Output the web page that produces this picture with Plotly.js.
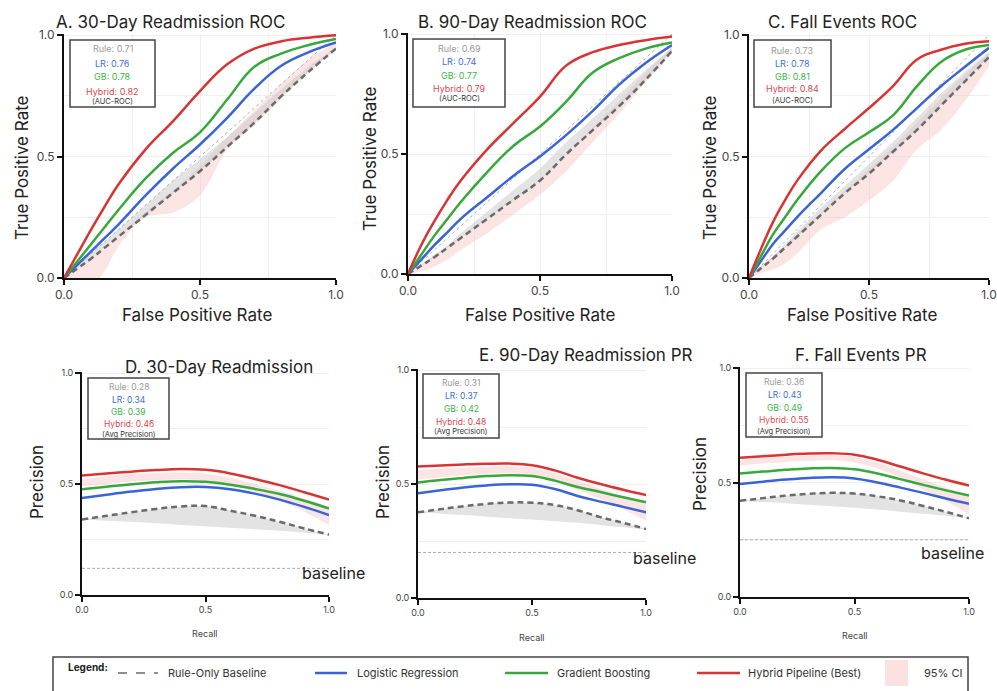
<!DOCTYPE html>
<html><head><meta charset="utf-8">
<script src="https://cdn.plot.ly/plotly-3.0.1.min.js"></script>
<style>html,body{margin:0;padding:0;background:#fff}</style>
</head><body><div id="chart" style="width:997px;height:691px"></div>
<script>
// ---------- DATA ----------
const rocFPR = [0,0.05,0.1,0.15,0.2,0.3,0.4,0.5,0.6,0.7,0.8,0.9,1];
const prRecall = [0,0.1,0.2,0.3,0.4,0.5,0.6,0.7,0.8,0.9,1];
const diagX = [0,1];
const diagY = [0,1];

// A. 30-Day Readmission ROC
const rocA_rule  = [0,0.04,0.08,0.125,0.17,0.26,0.35,0.44,0.54,0.64,0.75,0.85,0.945];
const rocA_ruleHi= [0,0.05,0.10,0.15,0.20,0.30,0.40,0.49,0.58,0.68,0.78,0.87,0.95];
const rocA_lr    = [0,0.055,0.11,0.165,0.22,0.34,0.45,0.55,0.66,0.78,0.875,0.93,0.97];
const rocA_gb    = [0,0.07,0.14,0.21,0.28,0.41,0.515,0.60,0.735,0.87,0.925,0.96,0.985];
const rocA_hyb   = [0,0.10,0.20,0.295,0.385,0.53,0.645,0.77,0.88,0.945,0.975,0.99,1.0];
const rocA_ciLo  = [0,-0.035,-0.03,0.03,0.13,0.25,0.27,0.34,0.53,0.63,0.74,0.85,0.94];
const rocA_ciHi  = [0,0.04,0.08,0.125,0.17,0.27,0.36,0.46,0.58,0.69,0.80,0.90,0.97];

// B. 90-Day Readmission ROC
const rocB_rule  = [0,0.035,0.07,0.11,0.15,0.23,0.31,0.39,0.50,0.60,0.70,0.81,0.93];
const rocB_ruleHi= [0,0.04,0.08,0.12,0.17,0.26,0.35,0.44,0.55,0.65,0.75,0.85,0.94];
const rocB_lr    = [0,0.06,0.12,0.175,0.23,0.32,0.41,0.49,0.58,0.68,0.79,0.88,0.955];
const rocB_gb    = [0,0.08,0.16,0.23,0.30,0.425,0.535,0.615,0.72,0.84,0.90,0.94,0.965];
const rocB_hyb   = [0,0.12,0.22,0.31,0.39,0.52,0.63,0.74,0.87,0.925,0.955,0.975,0.99];
const rocB_ciLo  = [0,0.01,0.03,0.06,0.10,0.17,0.25,0.33,0.43,0.55,0.67,0.80,0.92];
const rocB_ciHi  = [0,0.04,0.075,0.115,0.155,0.235,0.315,0.395,0.50,0.61,0.72,0.84,0.95];

// C. Fall Events ROC
const rocC_rule  = [0,0.04,0.08,0.125,0.17,0.26,0.35,0.43,0.52,0.61,0.71,0.81,0.91];
const rocC_ruleHi= [0,0.045,0.09,0.14,0.19,0.29,0.38,0.47,0.56,0.66,0.76,0.85,0.93];
const rocC_lr    = [0,0.07,0.14,0.195,0.25,0.35,0.45,0.53,0.61,0.70,0.79,0.87,0.948];
const rocC_gb    = [0,0.09,0.18,0.25,0.32,0.44,0.535,0.60,0.67,0.79,0.89,0.94,0.96];
const rocC_hyb   = [0,0.12,0.23,0.32,0.40,0.525,0.615,0.70,0.79,0.90,0.94,0.965,0.975];
const rocC_ciLo  = [0,0.02,0.035,0.06,0.10,0.20,0.25,0.32,0.40,0.53,0.61,0.73,0.87];
const rocC_ciHi  = [0,0.05,0.09,0.13,0.18,0.27,0.36,0.45,0.54,0.64,0.74,0.84,0.93];

// D. 30-Day Readmission PR
const prD_rule  = [0.34,0.357,0.373,0.388,0.399,0.401,0.38,0.357,0.33,0.30,0.272];
const prD_ruleLo= [0.34,0.335,0.33,0.323,0.316,0.31,0.303,0.296,0.289,0.281,0.272];
const prD_lr    = [0.437,0.452,0.466,0.478,0.486,0.487,0.477,0.457,0.43,0.397,0.36];
const prD_gb    = [0.476,0.488,0.499,0.508,0.513,0.51,0.497,0.478,0.455,0.425,0.39];
const prD_hyb   = [0.539,0.548,0.556,0.563,0.568,0.564,0.548,0.523,0.495,0.463,0.43];
const prD_ciLo  = [0.49,0.50,0.51,0.517,0.52,0.515,0.495,0.465,0.425,0.375,0.315];
const prD_ciHi  = [0.52,0.535,0.545,0.55,0.552,0.547,0.528,0.50,0.47,0.435,0.40];

// E. 90-Day Readmission PR
const prE_rule  = [0.376,0.39,0.403,0.413,0.419,0.418,0.408,0.385,0.355,0.33,0.303];
const prE_ruleLo= [0.376,0.37,0.364,0.357,0.35,0.344,0.337,0.33,0.32,0.31,0.30];
const prE_lr    = [0.46,0.473,0.485,0.494,0.499,0.497,0.478,0.448,0.423,0.40,0.376];
const prE_gb    = [0.507,0.518,0.527,0.535,0.539,0.535,0.515,0.487,0.465,0.442,0.42];
const prE_hyb   = [0.577,0.582,0.586,0.589,0.59,0.583,0.56,0.528,0.50,0.475,0.452];
const prE_ciLo  = [0.52,0.53,0.538,0.545,0.547,0.54,0.515,0.475,0.435,0.39,0.34];
const prE_ciHi  = [0.56,0.568,0.573,0.577,0.578,0.572,0.548,0.515,0.48,0.445,0.41];

// F. Fall Events PR
const prF_rule  = [0.42,0.432,0.443,0.451,0.455,0.452,0.44,0.422,0.398,0.372,0.344];
const prF_ruleLo= [0.42,0.415,0.41,0.403,0.397,0.39,0.382,0.373,0.364,0.355,0.345];
const prF_lr    = [0.494,0.504,0.513,0.52,0.523,0.518,0.50,0.478,0.455,0.43,0.407];
const prF_gb    = [0.54,0.548,0.556,0.562,0.564,0.558,0.54,0.515,0.49,0.466,0.443];
const prF_hyb   = [0.608,0.615,0.622,0.627,0.628,0.622,0.60,0.57,0.54,0.512,0.487];
const prF_ciLo  = [0.575,0.583,0.59,0.595,0.597,0.588,0.562,0.522,0.47,0.42,0.36];
const prF_ciHi  = [0.60,0.608,0.614,0.618,0.62,0.612,0.588,0.552,0.515,0.478,0.44];

const prBaseline = [0.12, 0.20, 0.25];

// Metric boxes
const aucRule = [0.71,0.69,0.73];
const aucLR   = [0.76,0.74,0.78];
const aucGB   = [0.78,0.77,0.81];
const aucHyb  = [0.82,0.79,0.84];
const apRule  = [0.28,0.31,0.36];
const apLR    = [0.34,0.37,0.43];
const apGB    = [0.39,0.42,0.49];
const apHyb   = [0.46,0.48,0.55];

const panelTitles = ['A. 30-Day Readmission ROC','B. 90-Day Readmission ROC','C. Fall Events ROC',
                     'D. 30-Day Readmission','E. 90-Day Readmission PR','F. Fall Events PR'];
const tickVals = [0,0.5,1];
const tickText = ['0.0','0.5','1.0'];
const legendLabels = ['Rule-Only Baseline','Logistic Regression','Gradient Boosting','Hybrid Pipeline (Best)','95% CI'];

// ---------- STYLE ----------
const C_RULE='#6a6a6a', C_LR='#3a63d6', C_GB='#37a83b', C_HYB='#d83434';
const C_PINK='rgba(246,196,196,0.45)', C_GRAY='rgba(200,200,200,0.5)';
const FONT='Inter, "Noto Sans", sans-serif';
const W=997, H=691;
const px=v=>v/W, py=v=>1-v/H;

const panels = [
  {x:[64,336], y:[278,34]},
  {x:[408,672], y:[274,33]},
  {x:[749,989], y:[278,34]},
  {x:[82,329], y:[595,372]},
  {x:[418,646], y:[598,369]},
  {x:[740,969], y:[597,367]},
];

const rocSets = [
  {rule:rocA_rule, hi:rocA_ruleHi, lr:rocA_lr, gb:rocA_gb, hyb:rocA_hyb, ciLo:rocA_ciLo, ciHi:rocA_ciHi},
  {rule:rocB_rule, hi:rocB_ruleHi, lr:rocB_lr, gb:rocB_gb, hyb:rocB_hyb, ciLo:rocB_ciLo, ciHi:rocB_ciHi},
  {rule:rocC_rule, hi:rocC_ruleHi, lr:rocC_lr, gb:rocC_gb, hyb:rocC_hyb, ciLo:rocC_ciLo, ciHi:rocC_ciHi},
];
const prSets = [
  {rule:prD_rule, lo:prD_ruleLo, lr:prD_lr, gb:prD_gb, hyb:prD_hyb, ciLo:prD_ciLo, ciHi:prD_ciHi},
  {rule:prE_rule, lo:prE_ruleLo, lr:prE_lr, gb:prE_gb, hyb:prE_hyb, ciLo:prE_ciLo, ciHi:prE_ciHi},
  {rule:prF_rule, lo:prF_ruleLo, lr:prF_lr, gb:prF_gb, hyb:prF_hyb, ciLo:prF_ciLo, ciHi:prF_ciHi},
];

const traces=[];
function ax(i){return {xaxis: i===0?'x':'x'+(i+1), yaxis: i===0?'y':'y'+(i+1)};}
function band(i,x,lo,hi,color){
  const a=ax(i);
  traces.push(Object.assign({x:x,y:lo,mode:'lines',line:{width:0,shape:'spline'},hoverinfo:'skip',showlegend:false},a));
  traces.push(Object.assign({x:x,y:hi,mode:'lines',fill:'tonexty',fillcolor:color,line:{width:0,shape:'spline'},hoverinfo:'skip',showlegend:false},a));
}
function line(i,x,y,color,width,dash){
  traces.push(Object.assign({x:x,y:y,mode:'lines',line:{color:color,width:width,dash:dash||'solid',shape:'spline',smoothing:1.2},hoverinfo:'skip',showlegend:false},ax(i)));
}

rocSets.forEach((s,i)=>{
  band(i,rocFPR,s.ciLo,s.ciHi,C_PINK);
  band(i,rocFPR,s.rule,s.hi,C_GRAY);
  line(i,diagX,diagY,'#b0b0b0',1,'dot');
  line(i,rocFPR,s.rule,C_RULE,2.5,'6px,4px');
  line(i,rocFPR,s.lr,C_LR,2.5);
  line(i,rocFPR,s.gb,C_GB,2.5);
  line(i,rocFPR,s.hyb,C_HYB,2.5);
});
prSets.forEach((s,k)=>{
  const i=k+3;
  band(i,prRecall,s.ciLo,s.ciHi,C_PINK);
  band(i,prRecall,s.lo,s.rule,C_GRAY);
  line(i,[prRecall[0],prRecall[prRecall.length-1]],[prBaseline[k],prBaseline[k]],'#aaaaaa',1,'3px,2px');
  line(i,prRecall,s.rule,C_RULE,2.5,'6px,4px');
  line(i,prRecall,s.lr,C_LR,2.5);
  line(i,prRecall,s.gb,C_GB,2.5);
  line(i,prRecall,s.hyb,C_HYB,2.5);
});

const layout={width:W,height:H,autosize:false,margin:{l:0,r:0,t:0,b:0},
  paper_bgcolor:'#fff',plot_bgcolor:'#fff',showlegend:false,font:{family:FONT,color:'#222'},
  annotations:[],shapes:[]};

panels.forEach((p,i)=>{
  const roc=i<3;
  const fs=roc?12:9;
  const common={tickvals:tickVals,ticktext:tickText,showline:true,linecolor:'#111',linewidth:2,
    ticks:'outside',ticklen:5,tickwidth:2,tickcolor:'#111',
    tickfont:{family:FONT,size:fs,color:'#444'},zeroline:false,fixedrange:true,
    gridcolor:'#efefef',gridwidth:1};
  const xk=i===0?'xaxis':'xaxis'+(i+1), yk=i===0?'yaxis':'yaxis'+(i+1);
  const xa=i===0?'x':'x'+(i+1), ya=i===0?'y':'y'+(i+1);
  layout[xk]=Object.assign({},common,{domain:[px(p.x[0]),px(p.x[1])],anchor:ya,range:[0,1],
    showgrid:roc, minor:roc?{dtick:0.25,tick0:0,showgrid:true,gridcolor:'#efefef',ticks:''}:undefined});
  layout[yk]=Object.assign({},common,{domain:[py(p.y[0]),py(p.y[1])],anchor:xa,range:[0,1.005],
    showgrid:true, minor:{dtick:0.25,tick0:0,showgrid:true,gridcolor:'#efefef',ticks:''}});
});

function ann(text,x,y,o){
  layout.annotations.push(Object.assign({text:text,x:px(x),y:py(y),xref:'paper',yref:'paper',
    showarrow:false,xanchor:'center',yanchor:'middle',font:{family:FONT,size:12,color:'#222'}},o||{}));
}
// titles
const titlePos=[[171,22],[532,22],[842,22],[219,367],[586,355],[861,355]];
panelTitles.forEach((t,i)=>ann(t,titlePos[i][0],titlePos[i][1],{font:{family:FONT,size:17,color:'#222'}}));
// axis titles
[[22,168],[370,159],[710,168]].forEach(p=>ann('True Positive Rate',p[0],p[1],{textangle:-90,font:{family:FONT,size:17,color:'#222'}}));
[[197,315],[540,315],[862,315]].forEach(p=>ann('False Positive Rate',p[0],p[1],{font:{family:FONT,size:17,color:'#222'}}));
[[37,482],[383,482],[700,474]].forEach(p=>ann('Precision',p[0],p[1],{textangle:-90,font:{family:FONT,size:17,color:'#222'}}));
[[205,633],[532,637],[855,635]].forEach(p=>ann('Recall',p[0],p[1],{font:{family:FONT,size:9,color:'#444'}}));
// baseline labels
[[300,573],[631,558],[919,553]].forEach(p=>ann('baseline',p[0],p[1],{xanchor:'left',font:{family:FONT,size:16,color:'#222'}}));

// metric boxes
const boxes=[[70,155,40,107],[413,505,39,107],[754,831,40,107],[88,169,378,439],[423,499,374,438],[746,822,373,437]];
const boxLines=[[49,63,77,91,102],[49,62,75,89,99],[50,63,76,89,100],[387,400,412,424,434],[383,396,409,422,432],[382,395,408,420,431]];
boxes.forEach((b,i)=>{
  layout.shapes.push({type:'rect',xref:'paper',yref:'paper',x0:px(b[0]),x1:px(b[1]),y0:py(b[3]),y1:py(b[2]),
    line:{color:'#444',width:1.5},fillcolor:'rgba(255,255,255,0.9)',layer:'above'});
  const roc=i<3, k=i%3;
  const vals=roc?[aucRule[k],aucLR[k],aucGB[k],aucHyb[k]]:[apRule[k],apLR[k],apGB[k],apHyb[k]];
  const labels=['Rule: ','LR: ','GB: ','Hybrid: '];
  const cols=['#9a9a9a','#3c6fd6','#3db54a','#e0474c'];
  const cx=(b[0]+b[1])/2, fs=roc?9:8.5;
  vals.forEach((v,j)=>ann(labels[j]+v.toFixed(2),cx,boxLines[i][j],{font:{family:FONT,size:fs,color:cols[j]}}));
  ann(roc?'(AUC-ROC)':'(Avg Precision)',cx,boxLines[i][4],{font:{family:FONT,size:7.5,color:'#333'}});
});

// custom legend
layout.shapes.push({type:'rect',xref:'paper',yref:'paper',x0:px(53),x1:px(968),y0:py(705),y1:py(657),line:{color:'#444',width:1.5},fillcolor:'rgba(0,0,0,0)'});
ann('<b>Legend:</b>',66,667,{xanchor:'left',font:{family:FONT,size:10,color:'#222'}});
const legLines=[[118,158,C_RULE,'dash',1.5],[315,347,C_LR,'solid',2.5],[505,548,C_GB,'solid',2.5],[697,740,C_HYB,'solid',2.5]];
const legTextX=[166,355,555,746,922];
legLines.forEach(l=>layout.shapes.push({type:'line',xref:'paper',yref:'paper',x0:px(l[0]),x1:px(l[1]),y0:py(673),y1:py(673),line:{color:l[2],width:l[4],dash:l[3]}}));
layout.shapes.push({type:'rect',xref:'paper',yref:'paper',x0:px(885),x1:px(908),y0:py(686),y1:py(660),line:{width:0},fillcolor:'#fbe1e1'});
legendLabels.forEach((t,i)=>ann(t,legTextX[i],673,{xanchor:'left',font:{family:FONT,size:11,color:'#333'}}));

Plotly.newPlot('chart',traces,layout,{displayModeBar:false,staticPlot:true});
</script></body></html>
